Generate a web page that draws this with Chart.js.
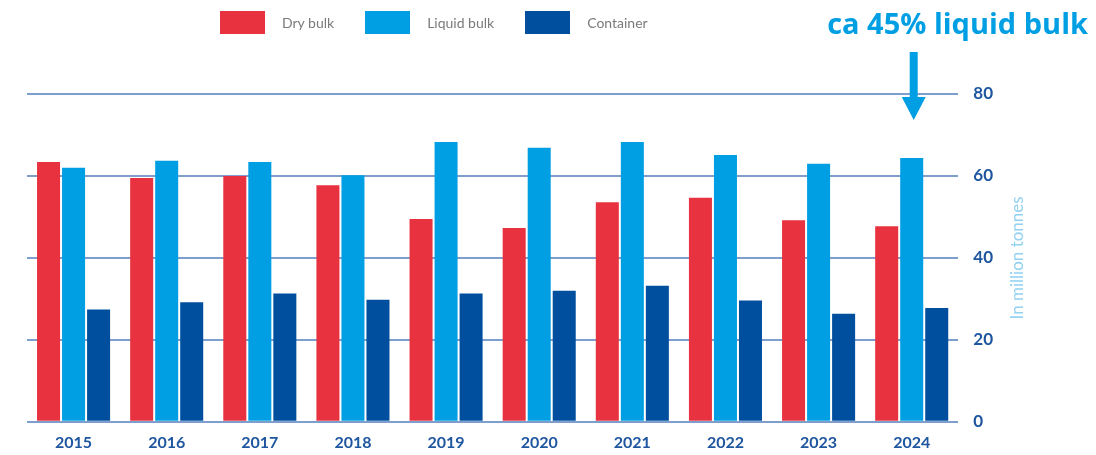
<!DOCTYPE html>
<html lang="en">
<head>
    <meta charset="UTF-8">
    <title>Port throughput by cargo type</title>
    <style>
        body { margin: 0; background: #fff; }
        #wrap { position: relative; width: 1096px; height: 455px; }
        #wrap canvas { display: block; }
        #legend { position: absolute; left: 220px; top: 11px; display: flex; font-family: Lato, sans-serif; font-size: 14px; color: #7a7a7a; }
        #legend .item { display: flex; align-items: center; margin-right: 31px; }
        #legend .box { width: 45px; height: 23px; margin-right: 17px; }
    </style>
</head>
<body>
<div id="wrap">
    <div id="legend"></div>
    <canvas id="grafico" width="1096" height="455"></canvas>
</div>

<script src="https://cdn.jsdelivr.net/npm/chart.js"></script>
<script type="text/javascript">
    var years = ['2015', '2016', '2017', '2018', '2019', '2020', '2021', '2022', '2023', '2024'];
    var dryBulk = [63.4, 59.5, 60.0, 57.7, 49.5, 47.3, 53.6, 54.7, 49.2, 47.7];
    var liquidBulk = [62.0, 63.7, 63.4, 60.2, 68.3, 66.9, 68.3, 65.1, 63.0, 64.4];
    var container = [27.4, 29.2, 31.3, 29.8, 31.3, 32.0, 33.2, 29.6, 26.4, 27.8];
    var yTicks = [0, 20, 40, 60, 80];
    var seriesNames = ['Dry bulk', 'Liquid bulk', 'Container'];
    var seriesColors = ['#e8323f', '#009fe3', '#004f9f'];
    var axisTitle = 'In million tonnes';
    var noteText = 'ca 45% liquid bulk';

    // title on the right reads bottom-to-top, plus the arrow + note
    var extras = {
        id: 'extras',
        afterDraw: function (chart) {
            var ctx = chart.ctx;
            var area = chart.chartArea;
            ctx.save();
            ctx.translate(1018, (area.top + area.bottom) / 2);
            ctx.rotate(-Math.PI / 2);
            ctx.fillStyle = '#93d2f2';
            ctx.font = '17px Lato';
            ctx.textAlign = 'center';
            ctx.textBaseline = 'middle';
            ctx.fillText(axisTitle, 0, 0);
            ctx.restore();

            // arrow pointing at the 2024 liquid bulk bar
            var bar = chart.getDatasetMeta(1).data[years.length - 1];
            var ax = bar.x + 2;
            ctx.save();
            ctx.fillStyle = '#009fe3';
            ctx.fillRect(ax - 4, 52, 8, 46);
            ctx.beginPath();
            ctx.moveTo(ax - 12, 97);
            ctx.lineTo(ax + 12, 97);
            ctx.lineTo(ax, 120);
            ctx.closePath();
            ctx.fill();

            ctx.font = 'bold 29px "Open Sans"';
            ctx.textAlign = 'right';
            ctx.textBaseline = 'alphabetic';
            ctx.fillText(noteText, 1088, 34);
            ctx.restore();
        }
    };

    var datasets = seriesNames.map(function (name, i) {
        return {
            label: name,
            data: [dryBulk, liquidBulk, container][i],
            backgroundColor: seriesColors[i],
            categoryPercentage: 0.806,
            barPercentage: 0.92
        };
    });

    var grafico = new Chart(document.getElementById('grafico'), {
        type: 'bar',
        data: { labels: years, datasets: datasets },
        options: {
            responsive: false,
            animation: false,
            layout: { padding: { top: 94, left: 27, right: 88, bottom: -8 } },
            plugins: {
                legend: { display: false },
                tooltip: { enabled: false }
            },
            scales: {
                x: {
                    grid: { display: false, drawTicks: false },
                    border: { display: false },
                    ticks: {
                        color: '#1f56a0',
                        font: { family: 'Lato', size: 16, weight: 'bold' },
                        padding: 11
                    }
                },
                y: {
                    position: 'right',
                    min: 0,
                    max: 80,
                    z: 1,
                    afterBuildTicks: function (scale) {
                        scale.ticks = yTicks.map(function (v) { return { value: v }; });
                    },
                    grid: { color: 'rgba(40, 95, 170, 0.6)', lineWidth: 2, drawTicks: false },
                    border: { display: false },
                    ticks: {
                        color: '#1f56a0',
                        font: { family: 'Lato', size: 17, weight: 'bold' },
                        padding: 15
                    }
                }
            }
        },
        plugins: [extras]
    });

    // legend as plain html, built from the datasets
    var legend = document.getElementById('legend');
    grafico.data.datasets.forEach(function (ds) {
        var item = document.createElement('div');
        item.className = 'item';
        var box = document.createElement('span');
        box.className = 'box';
        box.style.background = ds.backgroundColor;
        var txt = document.createElement('span');
        txt.textContent = ds.label;
        item.appendChild(box);
        item.appendChild(txt);
        legend.appendChild(item);
    });
</script>
</body>
</html>
